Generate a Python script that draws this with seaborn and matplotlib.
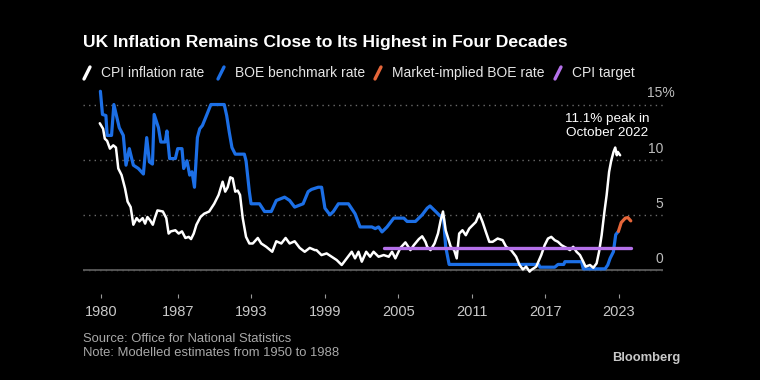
import matplotlib
matplotlib.use("Agg")
import matplotlib.pyplot as plt
from matplotlib.lines import Line2D
import seaborn as sns

# CPI inflation rate (%)
cpi_years = [
    1980.62, 1980.89, 1981.03, 1981.22, 1981.45, 1981.72, 1981.94, 1982.13, 1982.40, 1982.68,
    1982.89, 1983.14, 1983.36, 1983.63, 1983.85, 1984.12, 1984.32, 1984.51, 1984.73, 1984.95,
    1985.14, 1985.33, 1985.77, 1986.05, 1986.24, 1986.42, 1986.79, 1987.06, 1987.33, 1987.61,
    1987.88, 1988.07, 1988.29, 1988.51, 1988.84, 1989.14, 1989.55, 1989.96, 1990.32, 1990.65,
    1990.86, 1991.06, 1991.27, 1991.47, 1991.68, 1991.88, 1992.07, 1992.29, 1992.56, 1992.83,
    1993.11, 1993.52, 1993.80, 1994.21, 1994.70, 1995.03, 1995.44, 1995.79, 1996.12, 1996.53,
    1996.94, 1997.35, 1997.76, 1998.18, 1998.31, 1998.72, 1999.14, 1999.55, 1999.96, 2000.37,
    2000.78, 2001.19, 2001.46, 2001.74, 2002.01, 2002.37, 2002.69, 2002.97, 2003.38, 2003.80,
    2004.21, 2004.48, 2004.75, 2005.16, 2005.57, 2005.98, 2006.26, 2006.67, 2006.94, 2007.21,
    2007.35, 2007.62, 2007.95, 2008.23, 2008.45, 2008.64, 2008.86, 2009.05, 2009.27, 2009.55,
    2009.76, 2009.96, 2010.23, 2010.50, 2010.78, 2011.05, 2011.32, 2011.60, 2011.87, 2012.14,
    2012.42, 2012.69, 2013.10, 2013.51, 2013.79, 2014.20, 2014.61, 2014.89, 2015.16, 2015.43,
    2015.71, 2015.84, 2016.25, 2016.66, 2016.94, 2017.21, 2017.48, 2017.76, 2018.03, 2018.31,
    2018.72, 2019.00, 2019.27, 2019.54, 2019.82, 2020.09, 2020.28, 2020.64, 2020.91, 2021.18,
    2021.38, 2021.59, 2021.82, 2022.00, 2022.20, 2022.37, 2022.56, 2022.70, 2022.83, 2022.91,
    2023.10,
]
cpi_rate = [
    13.3, 12.8, 11.9, 11.7, 11.0, 11.3, 11.1, 9.2, 8.6, 7.4,
    6.2, 5.7, 4.1, 4.7, 4.4, 4.7, 4.2, 4.8, 4.5, 4.1,
    4.8, 5.4, 5.3, 4.7, 3.3, 3.5, 3.6, 3.3, 3.5, 2.9,
    3.0, 2.8, 3.3, 4.1, 4.8, 5.1, 5.3, 6.0, 6.8, 8.0,
    7.1, 7.5, 8.4, 8.3, 7.1, 7.2, 6.8, 4.7, 3.0, 2.4,
    2.4, 2.9, 2.4, 2.1, 1.65, 2.6, 2.4, 2.9, 2.4, 2.6,
    2.0, 1.65, 2.0, 1.8, 1.8, 1.35, 1.5, 1.2, 0.9, 0.45,
    1.05, 1.65, 1.05, 1.65, 0.75, 1.65, 1.2, 1.65, 1.2, 1.35,
    1.2, 1.65, 1.05, 2.0, 2.5, 1.8, 2.25, 2.8, 3.05, 2.55,
    2.1, 1.8, 2.4, 3.3, 4.5, 5.3, 3.6, 2.9, 2.1, 1.8,
    1.05, 3.3, 3.6, 3.15, 3.75, 4.05, 4.35, 5.1, 4.35, 3.45,
    2.55, 2.55, 2.85, 2.7, 2.1, 1.8, 1.2, 0.45, 0.05, 0.3,
    -0.15, 0.0, 0.3, 1.35, 2.25, 2.85, 3.0, 2.7, 2.55, 2.25,
    2.0, 1.8, 2.1, 1.65, 1.35, 0.75, 0.3, 0.45, 0.2, 0.6,
    1.65, 3.15, 5.3, 6.8, 8.9, 9.9, 10.7, 11.1, 10.4, 10.7,
    10.4,
]

# BOE benchmark rate (%)
boe_years = [
    1980.67, 1980.84, 1981.12, 1981.22, 1981.58, 1981.77, 1982.21, 1982.54, 1982.76, 1983.03,
    1983.36, 1983.77, 1984.18, 1984.45, 1984.67, 1984.92, 1985.06, 1985.41, 1985.60, 1985.96,
    1986.10, 1986.32, 1986.79, 1986.98, 1987.33, 1987.47, 1987.74, 1987.96, 1988.15, 1988.35,
    1988.59, 1988.78, 1989.00, 1989.33, 1989.69, 1990.78, 1990.98, 1991.19, 1991.41, 1991.68,
    1992.42, 1992.56, 1992.83, 1992.97, 1993.66, 1994.07, 1994.62, 1995.03, 1995.71, 1996.12,
    1996.53, 1997.22, 1997.63, 1997.90, 1998.45, 1998.73, 1999.00, 1999.41, 1999.69, 2000.10,
    2000.92, 2001.46, 2001.87, 2002.83, 2003.11, 2003.38, 2003.66, 2004.07, 2004.62, 2005.44,
    2005.71, 2006.39, 2006.94, 2007.35, 2007.58, 2008.04, 2008.40, 2008.67, 2008.86, 2009.14,
    2016.45, 2016.55, 2017.76, 2018.03, 2018.50, 2018.59, 2019.95, 2020.09, 2021.87, 2022.09,
    2022.28, 2022.55, 2022.74, 2022.96,
]
boe_rate = [
    16.2, 14.1, 14.0, 12.2, 12.2, 15.0, 12.9, 12.2, 9.5, 11.0,
    9.5, 9.2, 8.7, 12.0, 9.8, 9.6, 14.1, 12.9, 11.6, 11.6,
    12.6, 10.1, 10.1, 11.0, 11.0, 9.2, 9.9, 8.6, 8.9, 7.5,
    12.0, 12.8, 13.1, 14.0, 15.0, 15.0, 14.0, 12.5, 11.1, 10.5,
    10.5, 9.9, 7.1, 6.0, 6.0, 5.3, 5.3, 6.3, 6.6, 6.3,
    5.7, 6.0, 7.1, 7.3, 7.5, 7.5, 5.6, 5.0, 5.3, 6.0,
    6.0, 5.1, 3.9, 3.9, 3.75, 3.9, 3.45, 3.9, 4.7, 4.7,
    4.4, 4.4, 5.0, 5.6, 5.8, 5.3, 4.9, 4.8, 2.1, 0.5,
    0.5, 0.25, 0.25, 0.5, 0.5, 0.75, 0.75, 0.1, 0.1, 0.45,
    1.05, 1.65, 3.2, 3.5,
]

# Market-implied BOE rate (%)
market_years = [2022.96, 2023.19, 2023.52, 2023.73, 2023.97]
market_rate = [3.5, 4.3, 4.7, 4.75, 4.45]

# CPI target (%)
target_years = [2003.84, 2023.98]
target_rate = [2.0, 2.0]

tick_years = [1980.71, 1987, 1993, 1999, 2005, 2011, 2017, 2023]
tick_labels = ["1980", "1987", "1993", "1999", "2005", "2011", "2017", "2023"]
y_ticks = [0, 5, 10, 15]
y_labels = ["0", "5", "10", "15%"]

legend_labels = ["CPI inflation rate", "BOE benchmark rate", "Market-implied BOE rate", "CPI target"]
WHITE, BLUE, ORANGE, PURPLE = "#ffffff", "#1c6fe6", "#e5663a", "#b571ea"

sns.set_theme(style="dark", rc={
    "figure.facecolor": "black",
    "axes.facecolor": "black",
    "savefig.facecolor": "black",
})
plt.rcParams["font.family"] = ["Liberation Sans", "DejaVu Sans"]

fig = plt.figure(figsize=(7.6, 3.8), dpi=100)
ax = fig.add_axes([83 / 760, 1 - 294 / 380, 580 / 760, 209 / 380])

sns.lineplot(x=boe_years, y=boe_rate, ax=ax, color=BLUE, linewidth=2.3, sort=False, zorder=3)
sns.lineplot(x=market_years, y=market_rate, ax=ax, color=ORANGE, linewidth=2.3, sort=False, zorder=3)
sns.lineplot(x=cpi_years, y=cpi_rate, ax=ax, color=WHITE, linewidth=1.8, sort=False, zorder=4)
sns.lineplot(x=target_years, y=target_rate, ax=ax, color=PURPLE, linewidth=2.4, sort=False, zorder=5)

ax.set_xlim(1979.25, 2026.6)
ax.set_ylim(-2.18, 16.77)
ax.set_xlabel("")
ax.set_ylabel("")
for s in ax.spines.values():
    s.set_visible(False)

# dotted gridlines + solid zero line
ax.set_yticks(y_ticks)
ax.yaxis.grid(True, color="#6a6a6a", linestyle=(0, (1, 3)), linewidth=1.0)
ax.xaxis.grid(False)
ax.axhline(0, color="#5a5a5a", linewidth=1.3, zorder=2)
ax.tick_params(axis="y", left=False, labelleft=False)

ax.set_xticks(tick_years)
ax.set_xticklabels(tick_labels)
ax.tick_params(axis="x", bottom=True, direction="out", length=3, width=0.8,
               color="#9a9a9a", labelcolor="#c8c8c8", labelsize=10.5, pad=5)

# right-side value labels sitting above the gridlines
for v, lab in zip(y_ticks, y_labels):
    dx = 8.5 if lab.endswith("%") else 0
    ax.annotate(lab, xy=(1, v), xycoords=("axes fraction", "data"), xytext=(dx, 8),
                textcoords="offset points", ha="right", va="center", fontsize=10, color="#bdbdbd")

ax.text(2022.05, 13.05, "11.1% peak in\nOctober 2022", ha="center", va="center",
        fontsize=9.7, color="white", linespacing=1.15)

# title and legend
fig.text(83 / 760, 1 - 42 / 380, "UK Inflation Remains Close to Its Highest in Four Decades",
         fontsize=12.6, fontweight="bold", color="white", va="center")

legend_slash_x = [87, 221, 378, 558]
for x, label, c in zip(legend_slash_x, legend_labels, [WHITE, BLUE, ORANGE, PURPLE]):
    fig.add_artist(Line2D([(x - 3) / 760, (x + 3) / 760], [1 - 79 / 380, 1 - 67 / 380],
                          color=c, linewidth=2.4, transform=fig.transFigure))
    fig.text((x + 14) / 760, 1 - 73 / 380, label, fontsize=10, color="#e6e6e6", va="center")

fig.text(83 / 760, 1 - 339 / 380, "Source: Office for National Statistics",
         fontsize=9.4, color="#a8a8a8", va="center")
fig.text(83 / 760, 1 - 353 / 380, "Note: Modelled estimates from 1950 to 1988",
         fontsize=9.4, color="#a8a8a8", va="center")
fig.text(680 / 760, 1 - 358 / 380, "Bloomberg", fontsize=9.4, fontweight="bold",
         color="#c8c8c8", ha="right", va="center")

fig.savefig("out.png", dpi=100, facecolor="black")
